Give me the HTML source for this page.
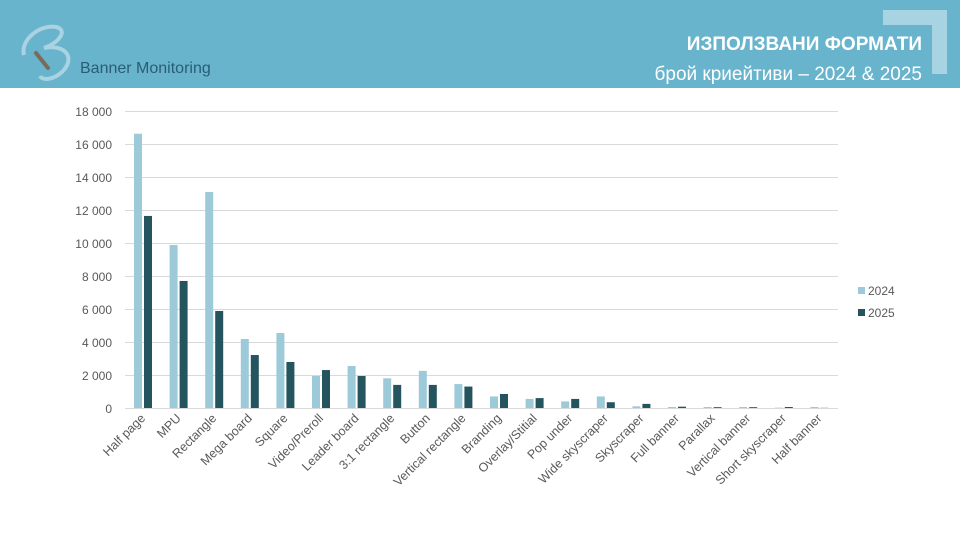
<!DOCTYPE html>
<html><head><meta charset="utf-8"><style>
html,body{margin:0;padding:0;background:#fff;}
svg{display:block;font-family:"Liberation Sans",sans-serif;}
</style></head><body>
<svg width="960" height="540" viewBox="0 0 960 540" xmlns="http://www.w3.org/2000/svg">
<rect x="0" y="0" width="960" height="88" fill="#68b4cc"/>
<path d="M883 10 H947 V74 H932 V25 H883 Z" fill="#a8d3e2"/>
<text x="922" y="50" text-anchor="end" font-size="19" font-weight="bold" fill="#fff">ИЗПОЛЗВАНИ ФОРМАТИ</text>
<text x="922" y="80" text-anchor="end" font-size="19" fill="#fff">брой криейтиви – 2024 &amp; 2025</text>
<path d="M24 55 C20 40 40 24 56 27 C68 30 60 42 44 48 C66 44 76 58 62 72 C52 81 42 80 40 76" fill="none" stroke="#a9d2e3" stroke-width="4"/>
<line x1="36" y1="53" x2="48" y2="68" stroke="#7a6a5a" stroke-width="4" stroke-linecap="round"/>
<text x="80" y="73" font-size="16" fill="#2a5d75">Banner Monitoring</text>
<g stroke="#d9d9d9" stroke-width="1">
<line x1="125" x2="838" y1="111.5" y2="111.5"/><line x1="125" x2="838" y1="144.5" y2="144.5"/>
<line x1="125" x2="838" y1="177.5" y2="177.5"/><line x1="125" x2="838" y1="210.5" y2="210.5"/>
<line x1="125" x2="838" y1="243.5" y2="243.5"/><line x1="125" x2="838" y1="276.5" y2="276.5"/>
<line x1="125" x2="838" y1="309.5" y2="309.5"/><line x1="125" x2="838" y1="342.5" y2="342.5"/>
<line x1="125" x2="838" y1="375.5" y2="375.5"/><line x1="125" x2="838" y1="408.5" y2="408.5"/>
</g>
<g font-size="12" fill="#595959" text-anchor="end">
<text x="112" y="116">18 000</text><text x="112" y="149">16 000</text><text x="112" y="182">14 000</text>
<text x="112" y="215">12 000</text><text x="112" y="248">10 000</text><text x="112" y="281">8 000</text>
<text x="112" y="314">6 000</text><text x="112" y="347">4 000</text><text x="112" y="380">2 000</text>
<text x="112" y="413">0</text>
</g>
<g id="bars"></g>
<g id="labels" font-size="12.5" fill="#595959" text-anchor="end"></g>
<rect x="858" y="287" width="7" height="7" fill="#9ccad9"/>
<text x="868" y="295" font-size="12" fill="#595959">2024</text>
<rect x="858" y="309" width="7" height="7" fill="#24555f"/>
<text x="868" y="317" font-size="12" fill="#595959">2025</text>
<script>
var d=[["Half page",16620,11640],["MPU",9880,7700],["Rectangle",13090,5880],["Mega board",4180,3210],["Square",4545,2790],["Video/Preroll",1940,2300],["Leader board",2545,1940],["3:1 rectangle",1800,1400],["Button",2250,1400],["Vertical rectangle",1450,1300],["Branding",700,850],["Overlay/Stitial",550,600],["Pop under",400,550],["Wide skyscraper",700,350],["Skyscraper",100,250],["Full banner",60,80],["Parallax",60,50],["Vertical banner",60,50],["Short skyscraper",20,60],["Half banner",60,10]];
var ns="http://www.w3.org/2000/svg",b=document.getElementById("bars"),l=document.getElementById("labels");
function r(x,v,c){var h=v/18000*297;var e=document.createElementNS(ns,"rect");e.setAttribute("x",x);e.setAttribute("y",408-h);e.setAttribute("width",8);e.setAttribute("height",h);e.setAttribute("fill",c);b.appendChild(e);}
d.forEach(function(a,i){var c=143+i*35.6;r(c-9,a[1],"#9ccad9");r(c+1,a[2],"#24555f");
var t=document.createElementNS(ns,"text");t.setAttribute("transform","translate("+(c+3)+",419) rotate(-45)");t.textContent=a[0];l.appendChild(t);});
</script>
</svg>
</body></html>
